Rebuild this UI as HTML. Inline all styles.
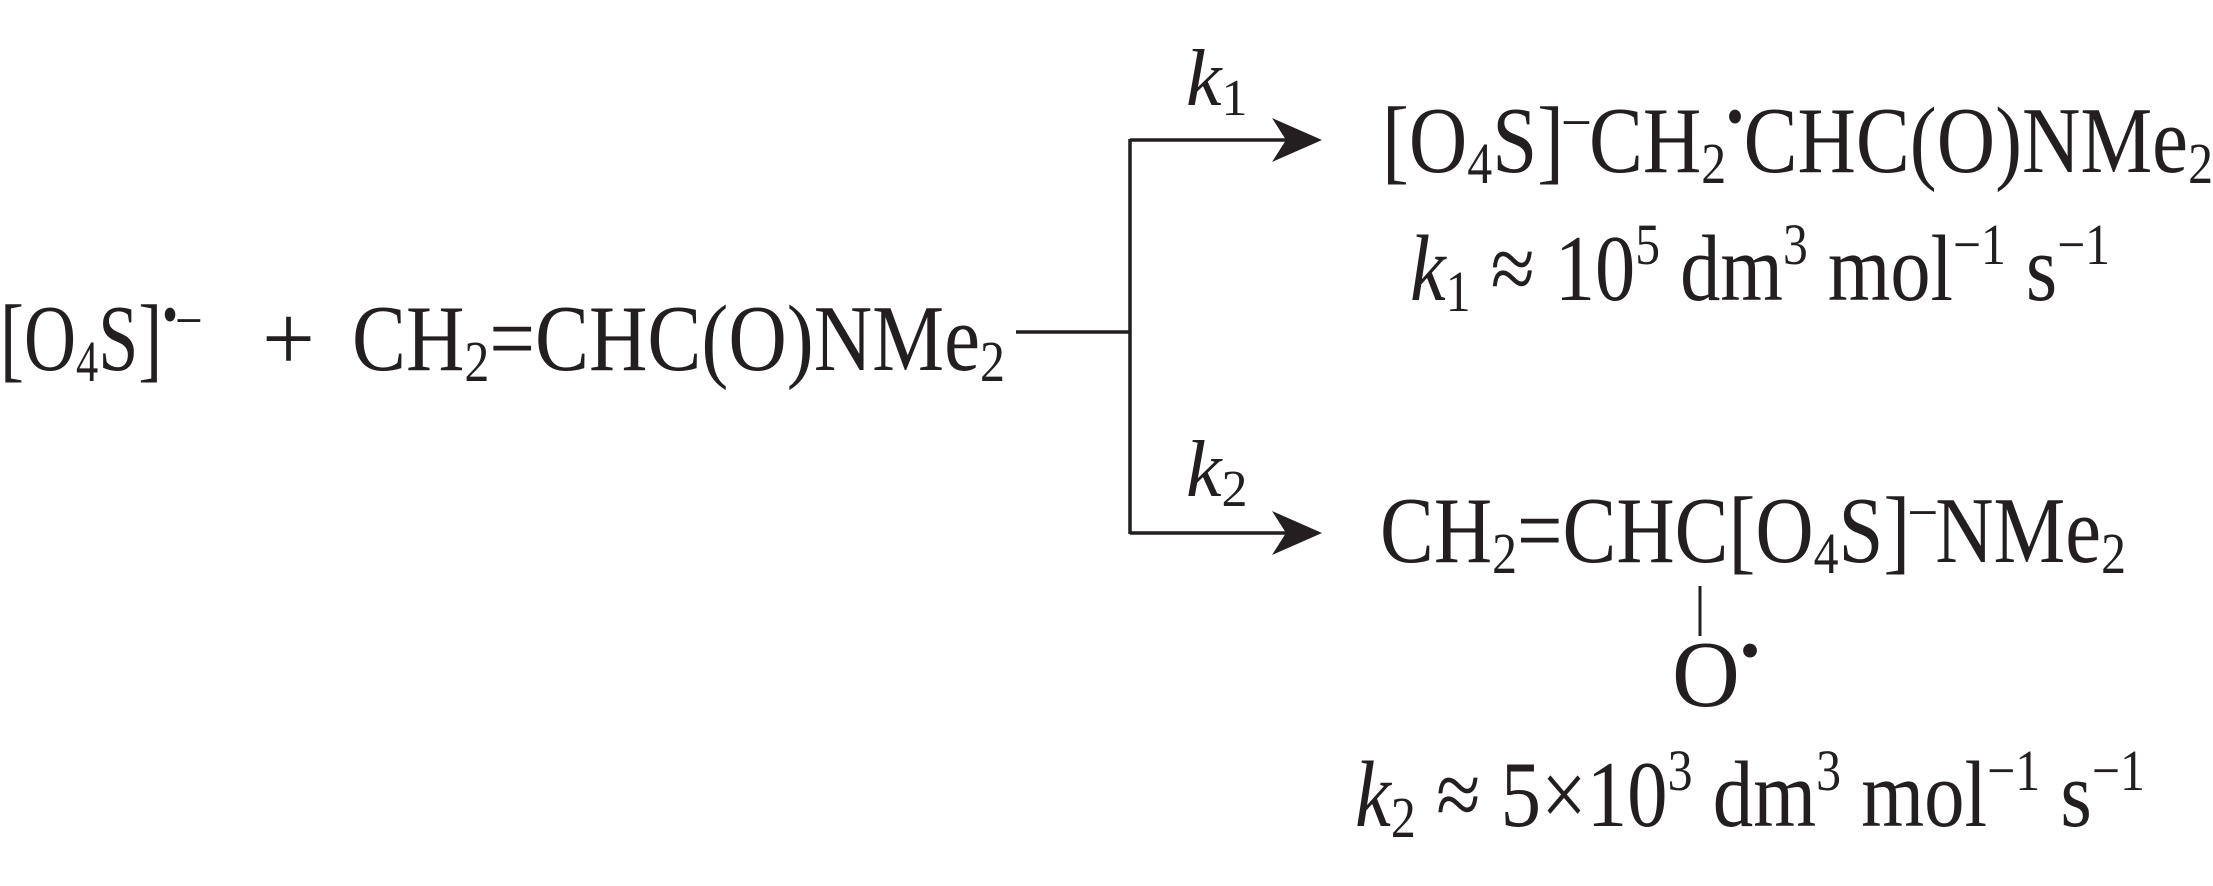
<!DOCTYPE html>
<html><head><meta charset="utf-8"><style>
html,body{margin:0;padding:0;background:#fff;}
svg{display:block;}
text{font-family:"Liberation Serif","DejaVu Serif",serif;fill:#231f20;}
</style></head><body>
<svg width="2213" height="886" viewBox="0 0 2213 886" xmlns="http://www.w3.org/2000/svg">
<g font-size="94">
<text x="0" y="370" textLength="200" lengthAdjust="spacingAndGlyphs">[O<tspan font-size="58" dy="11">4</tspan><tspan dy="-11">S]</tspan><tspan font-size="58" dy="-36">•–</tspan></text>
<text x="262" y="370">+</text>
<text x="352" y="370" textLength="653" lengthAdjust="spacingAndGlyphs">CH<tspan font-size="58" dy="11">2</tspan><tspan dy="-11">=CHC(O)NMe</tspan><tspan font-size="58" dy="11">2</tspan></text>

<text x="1382" y="172" textLength="831" lengthAdjust="spacingAndGlyphs">[O<tspan font-size="58" dy="11">4</tspan><tspan dy="-11">S]</tspan><tspan font-size="58" dy="-36">–</tspan><tspan dy="36">CH</tspan><tspan font-size="58" dy="11">2</tspan><tspan font-size="58" dy="-47">•</tspan><tspan dy="36">CHC(O)NMe</tspan><tspan font-size="58" dy="11">2</tspan></text>

<text x="1410" y="300" textLength="700" lengthAdjust="spacingAndGlyphs"><tspan font-style="italic">k</tspan><tspan font-size="58" dy="11">1</tspan><tspan dy="-11"> ≈ 10</tspan><tspan font-size="58" dy="-36">5</tspan><tspan dy="36"> dm</tspan><tspan font-size="58" dy="-36">3</tspan><tspan dy="36"> mol</tspan><tspan font-size="58" dy="-36">−1</tspan><tspan dy="36"> s</tspan><tspan font-size="58" dy="-36">−1</tspan></text>

<text x="1380" y="562" textLength="746" lengthAdjust="spacingAndGlyphs">CH<tspan font-size="58" dy="11">2</tspan><tspan dy="-11">=CHC[O</tspan><tspan font-size="58" dy="11">4</tspan><tspan dy="-11">S]</tspan><tspan font-size="58" dy="-36">–</tspan><tspan dy="36">NMe</tspan><tspan font-size="58" dy="11">2</tspan></text>

<text x="1672" y="706">O<tspan font-size="58" dy="-36">•</tspan></text>

<text x="1355" y="826" textLength="790" lengthAdjust="spacingAndGlyphs"><tspan font-style="italic">k</tspan><tspan font-size="58" dy="11">2</tspan><tspan dy="-11"> ≈ 5×10</tspan><tspan font-size="58" dy="-36">3</tspan><tspan dy="36"> dm</tspan><tspan font-size="58" dy="-36">3</tspan><tspan dy="36"> mol</tspan><tspan font-size="58" dy="-36">−1</tspan><tspan dy="36"> s</tspan><tspan font-size="58" dy="-36">−1</tspan></text>
</g>
<g font-size="80">
<text x="1186" y="105" font-style="italic">k<tspan font-style="normal" font-size="52" dy="10">1</tspan></text>
<text x="1186" y="496" font-style="italic">k<tspan font-style="normal" font-size="52" dy="10">2</tspan></text>
</g>
<g stroke="#231f20" stroke-width="3.5" fill="none">
<line x1="1016" y1="332" x2="1130" y2="332"/>
<line x1="1130" y1="139" x2="1130" y2="534"/>
<line x1="1130" y1="140" x2="1290" y2="140"/>
<line x1="1130" y1="533" x2="1290" y2="533"/>
<line x1="1700" y1="586" x2="1700" y2="636" stroke-width="3"/>
</g>
<polygon points="1322,140 1272,118 1286,140 1272,162" fill="#231f20"/>
<polygon points="1322,533 1272,511 1286,533 1272,555" fill="#231f20"/>
</svg>
</body></html>
